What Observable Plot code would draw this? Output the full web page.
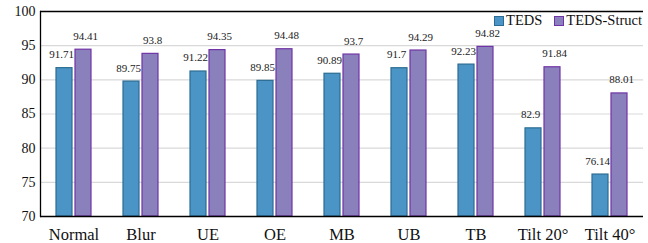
<!DOCTYPE html>
<html>
<head>
<meta charset="utf-8">
<script src="https://cdn.jsdelivr.net/npm/d3@7"></script>
<script src="https://cdn.jsdelivr.net/npm/@observablehq/plot@0.6"></script>
<style>
  html, body { margin: 0; padding: 0; background: #fff; }
  #wrap { position: relative; width: 648px; height: 243px; font-family: "Liberation Serif", "Times New Roman", serif; }
  #wrap svg, #wrap svg text { font-family: "Liberation Serif", "Times New Roman", serif !important; }
  #legend { position: absolute; top: 12px; right: 6px; display: flex; align-items: center; font-size: 14.5px; color: #111; }
  #legend .item { display: flex; align-items: center; margin-left: 12px; }
  #legend .sw { width: 8px; height: 8px; border: 1px solid; margin-right: 2px; }
</style>
</head>
<body>
<div id="wrap"><div id="legend"></div></div>
<script>
const categories = ["Normal", "Blur", "UE", "OE", "MB", "UB", "TB", "Tilt 20°", "Tilt 40°"];
const seriesNames = ["TEDS", "TEDS-Struct"];
const teds = [91.71, 89.75, 91.22, 89.85, 90.89, 91.7, 92.23, 82.9, 76.14];
const tedsStruct = [94.41, 93.8, 94.35, 94.48, 93.7, 94.29, 94.82, 91.84, 88.01];
const yTicks = [70, 75, 80, 85, 90, 95, 100];
const fills = ["#4a95c5", "#8a80bc"];
const strokes = ["#2c6c92", "#7134a6"];

const rows = [];
categories.forEach((c, i) => {
  rows.push({category: c, series: seriesNames[0], value: teds[i]});
  rows.push({category: c, series: seriesNames[1], value: tedsStruct[i]});
});
const yMin = yTicks[0], yMax = yTicks[yTicks.length - 1];
const labelOpts = {fx: "category", x: "series", y: "value", text: d => String(d.value),
  lineAnchor: "bottom", dy: -10, fontSize: 11, fill: "#222"};

const chart = Plot.plot({
  width: 648,
  height: 243,
  marginLeft: 38,
  marginRight: 3,
  marginTop: 11,
  marginBottom: 27,
  style: {background: "#fff", color: "#111"},
  fx: {domain: categories, padding: 0, label: null},
  x: {domain: seriesNames, paddingInner: 0.18, paddingOuter: 0.82, axis: null},
  y: {domain: [yMin, yMax], ticks: yTicks, label: null},
  color: {domain: seriesNames, range: fills},
  marks: [
    Plot.gridY(yTicks.slice(1, -1), {stroke: "#d9d9d9", strokeOpacity: 1, strokeWidth: 1.2}),
    Plot.axisY(yTicks, {tickSize: 0, tickPadding: 5, fontSize: 14, label: null}),
    Plot.axisFx({anchor: "bottom", tickSize: 0, tickPadding: 12, fontSize: 16.5, label: null}),
    Plot.barY(rows, {
      fx: "category", x: "series", y1: yMin, y2: "value",
      fill: "series",
      stroke: d => strokes[seriesNames.indexOf(d.series)],
      strokeWidth: 1.2
    }),
    Plot.text(rows.filter(d => d.series === seriesNames[0]), {...labelOpts, dx: -3}),
    Plot.text(rows.filter(d => d.series === seriesNames[1]), {...labelOpts, dx: 2}),
    Plot.ruleY([yMin, yMax], {stroke: "#000", strokeWidth: 1.3}),
    Plot.frame({anchor: "left", facetAnchor: "left", stroke: "#000", strokeWidth: 1.3})
  ]
});
document.getElementById("wrap").prepend(chart);

const legend = document.getElementById("legend");
seriesNames.forEach((s, i) => {
  const item = document.createElement("div");
  item.className = "item";
  const sw = document.createElement("span");
  sw.className = "sw";
  sw.style.background = fills[i];
  sw.style.borderColor = strokes[i];
  const label = document.createElement("span");
  label.textContent = s;
  item.append(sw, label);
  legend.append(item);
});
</script>
</body>
</html>
